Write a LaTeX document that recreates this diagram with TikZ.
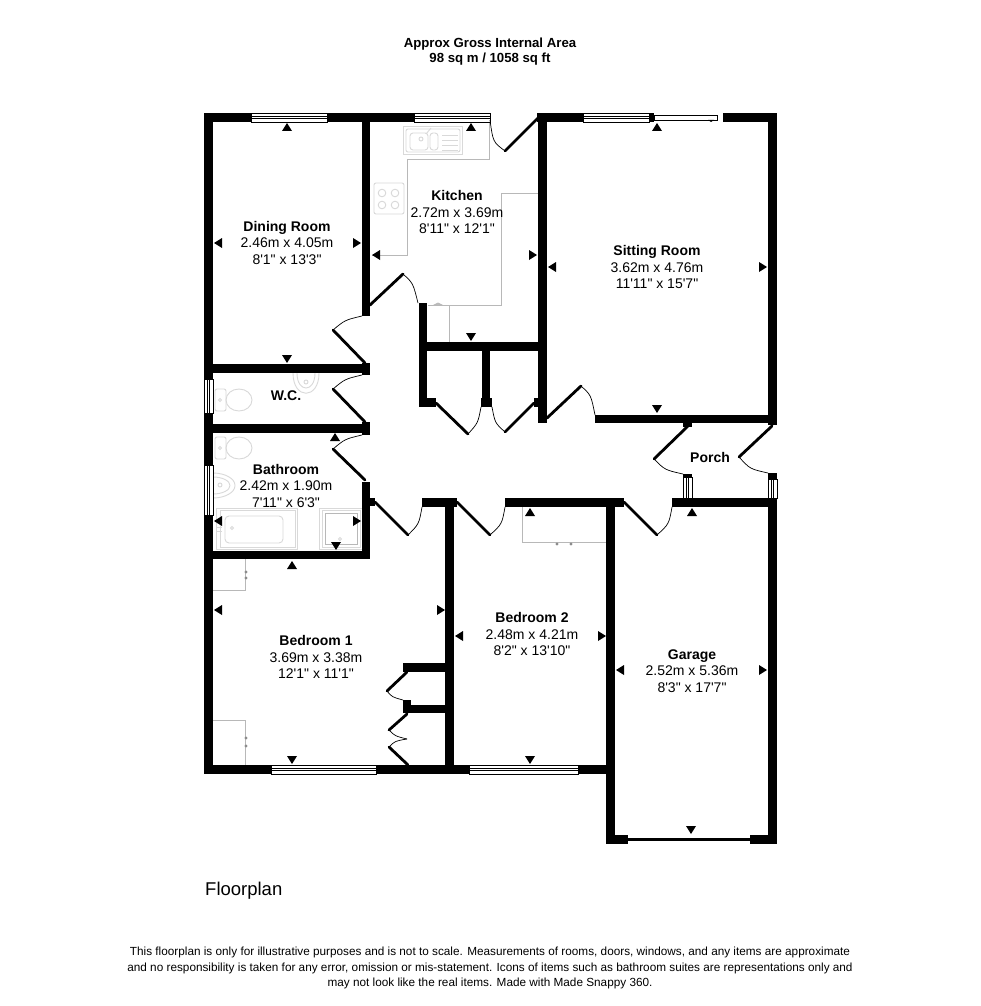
\documentclass[tikz,border=0pt]{standalone}
\usepackage{fontspec}
\setmainfont{Liberation Sans}
\newfontfamily\planfont{Liberation Sans}
\begin{document}
\begin{tikzpicture}[
      x=1pt, y=-1pt,
      wall/.style={fill=black},
      leaf/.style={line width=2.8pt, line cap=round},
      swing/.style={line width=0.7pt},
      pane/.style={draw=black, line width=0.6pt, fill=white},
      fitting/.style={draw=black!28, line width=0.8pt},
      faint/.style={draw=black!15, line width=0.9pt},
      tick/.style={fill=black},
      roomlabel/.style={align=center, font=\planfont\fontsize{14}{16.5}\selectfont, inner sep=0pt},
      notes/.style={align=center, inner sep=0pt}
    ]

    \useasboundingbox[fill=white] (0,0) rectangle (980,1006);

    % fittings first, walls go over them
    \draw[fitting] (489,122) -- (489,159) -- (407,159) -- (407,255) -- (372,255);
    \draw[fitting] (538,193) -- (501,193) -- (501,305) -- (428,305);
    \draw[fitting] (449,305) -- (449,342);
    \draw[fitting, fill=black!25] (434,305) -- (438,303) -- (442,305) -- cycle;
    % sink and hob
    \draw[faint] (403,126) rectangle (462,154);
    \draw[faint, rounded corners=2pt] (406,129) rectangle (460,152);
    \draw[faint, rounded corners=3pt] (410,133) rectangle (428,150);
    \draw[faint, rounded corners=3pt] (430,133) rectangle (438,150);
    \draw[faint] (421,139) circle (2) (426,134) -- (431,128);
    \foreach \y in {135,140,145,150} {
        \draw[faint] (442,\y) -- (458,\y);
      }
    \draw[faint, rounded corners=2pt] (374,183) rectangle (404,214);
    \foreach \x/\y in {382/193,395/193,382/205,395/205} {
        \draw[faint] (\x,\y) circle (3.8);
      }
    % toilets
    \foreach \y in {400,448} {
        \draw[faint, rounded corners=2pt] (215,\y-11) rectangle (226,\y+11);
        \draw[faint] (239,\y) ellipse (13 and 11);
        \draw[faint] (220,\y) circle (1.5);
      }
    % basins
    \draw[faint] (293,373) .. controls (293,400) and (319,400) .. (319,373);
    \draw[faint] (297,373) .. controls (297,393) and (315,393) .. (315,373);
    \draw[faint] (306,382) circle (2);
    \draw[faint] (213,473) arc (-90:90:22 and 12.5);
    \draw[faint] (213,477) arc (-90:90:17 and 8.5);
    \draw[faint] (220,485) circle (2);
    % bath and shower
    \draw[faint] (216,508) rectangle (297,549);
    \draw[faint] (220,510) rectangle (295,547);
    \draw[faint, rounded corners=4pt] (225,516) rectangle (283,543);
    \draw[faint] (232,528) circle (1.5);
    \draw[faint] (216,527) -- (222,527) (216,531) -- (222,531);
    \draw[faint] (319,508) rectangle (362,549);
    \draw[faint] (322,510) rectangle (360,547);
    \draw[fitting] (325,513) rectangle (357,544);
    \draw[faint] (340,539) circle (1.5);
    % wardrobes
    \draw[fitting] (213,590) -- (245,590) -- (245,559);
    \draw[fitting] (213,720) -- (245,720) -- (245,765);
    \draw[fitting] (522,507) -- (522,542) -- (606,542);
    \foreach \x/\y in {246/738,246/746,246/572,246/578,557/544,571/544} {
        \fill[black!45] (\x,\y) circle (1.7);
      }

    % outer and inner walls
    \foreach \xa/\ya/\xb/\yb in {
        204/113/251/122, 327/113/414/122, 537/113/583/122, 723/113/777/122,
        204/113/213/379, 204/413/213/465, 204/515/213/774,
        362/113/370/316, 538/113/547/423, 768/113/777/425,
        204/364/370/373, 362/363/370/375, 204/424/370/433, 362/422/370/435,
        362/482/370/559, 370/498/375/506, 204/551/370/559,
        419/303/427/407, 419/398/436/407, 419/342/546/351,
        482/342/490/398, 481/398/492/407, 534/398/538/407,
        595/415/777/423, 683/423/692/427,
        422/498/457/507, 445/498/454/774, 505/498/624/507, 606/498/615/844,
        672/498/777/507, 768/498/777/844, 683/474/692/477, 768/473/777/479,
        204/765/271/774, 376/765/469/774, 578/765/606/774,
        403/663/446/672, 403/705/446/713, 403/700/411/713,
        606/835/628/844, 750/835/777/844, 628/838/750/841,
        649/113/654/122
      } {
        \fill[wall] (\xa,\ya) rectangle (\xb,\yb);
      }

    % windows, along the wall
    \foreach \xa/\xb/\ya in {251/327/113, 414/490/113, 583/649/113, 271/376/765, 469/578/765} {
        \draw[pane] (\xa,\ya) rectangle (\xb,\ya+9);
        \draw[line width=0.6pt] (\xa,\ya+3.5) -- (\xb,\ya+3.5);
        \draw[line width=0.6pt] (\xa,\ya+5.5) -- (\xb,\ya+5.5);
      }
    \foreach \xa/\ya/\yb in {204/379/413, 204/465/515, 683/477/498, 768/479/498} {
        \draw[pane] (\xa,\ya) rectangle (\xa+9,\yb);
        \draw[line width=0.6pt] (\xa+3.5,\ya) -- (\xa+3.5,\yb);
        \draw[line width=0.6pt] (\xa+5.5,\ya) -- (\xa+5.5,\yb);
      }
    % sliding door
    \draw[pane] (654,115) rectangle (717,120);
    \fill (708,120) -- (714,120) -- (711,122) -- cycle;

    % doors: hinge, tip, end of the swing
    \foreach \hx/\hy/\tx/\ty/\ex/\ey/\bx/\by in {
        538/118/505/151/490/120/493/142,
        370/305/403/274/418/303/413/283,
        365/363/333/330/362/316/345/320,
        365/422/333/389/362/375/345/379,
        365/480/333/449/362/435/345/439,
        436/403/468/434/481/407/478/423,
        534/403/505/432/492/407/495/423,
        547/418/581/386/595/415/591/395,
        375/502/408/535/422/507/419/524,
        457/502/490/535/505/507/502/524,
        624/502/657/535/672/507/669/524,
        688/426/654/459/683/474/665/470,
        772/426/739/457/768/473/750/469,
        407/672/387/691/403/700/392/697,
        407/714/389/730/407/739/395/736,
        408/765/389/747/407/739/395/741
      } {
        \draw[leaf] (\hx,\hy) -- (\tx,\ty);
        \draw[swing] (\tx,\ty) .. controls (\bx,\by) .. (\ex,\ey);
      }

    % measuring ticks
    \foreach \x/\y in {287/123,471/123,657/123,292/561,335/433,530/508,692/508} {
        \fill[tick] (\x-5,\y+8) -- (\x+5,\y+8) -- (\x,\y) -- cycle;
      }
    \foreach \x/\y in {287/363,471/341,657/413,336/550,292/764,530/764,691/834} {
        \fill[tick] (\x-5,\y-8) -- (\x+5,\y-8) -- (\x,\y) -- cycle;
      }
    \foreach \x/\y in {214/243,372/255,548/267,214/521,214/610,455/636,616/670} {
        \fill[tick] (\x+8,\y-5) -- (\x+8,\y+5) -- (\x,\y) -- cycle;
      }
    \foreach \x/\y in {361/243,537/255,767/267,361/521,445/610,606/636,767/670} {
        \fill[tick] (\x-8,\y-5) -- (\x-8,\y+5) -- (\x,\y) -- cycle;
      }

    % texts
    \node[notes, font=\fontsize{13.2}{15}\selectfont\bfseries] (heading) at (490,52) {Approx Gross Internal Area\\98 sq m / 1058 sq ft};
    \node[roomlabel] (dining) at (287,242.5) {\textbf{Dining Room}\\2.46m x 4.05m\\8'1" x 13'3"};
    \node[roomlabel] (kitchen) at (457,212) {\textbf{Kitchen}\\2.72m x 3.69m\\8'11" x 12'1"};
    \node[roomlabel] (sitting) at (657,267) {\textbf{Sitting Room}\\3.62m x 4.76m\\11'11" x 15'7"};
    \node[roomlabel] (wc) at (286,396) {\textbf{W.C.}};
    \node[roomlabel] (bathroom) at (286,485.5) {\textbf{Bathroom}\\2.42m x 1.90m\\7'11" x 6'3"};
    \node[roomlabel] (porch) at (710,457) {\textbf{Porch}};
    \node[roomlabel] (bedone) at (316,657) {\textbf{Bedroom 1}\\3.69m x 3.38m\\12'1" x 11'1"};
    \node[roomlabel] (bedtwo) at (532,634) {\textbf{Bedroom 2}\\2.48m x 4.21m\\8'2" x 13'10"};
    \node[roomlabel] (garage) at (692,671) {\textbf{Garage}\\2.52m x 5.36m\\8'3" x 17'7"};
    \node[inner sep=0pt, anchor=west, font=\fontsize{18.5}{20}\selectfont] (plan) at (205,891) {Floorplan};
    \node[notes, font=\fontsize{11.77}{15.5}\selectfont] (disclaimer) at (490,968) {This floorplan is only for illustrative purposes and is not to scale. Measurements of rooms, doors, windows, and any items are approximate\\and no responsibility is taken for any error, omission or mis-statement. Icons of items such as bathroom suites are representations only and\\may not look like the real items. Made with Made Snappy 360.};

  \end{tikzpicture}
\end{document}
